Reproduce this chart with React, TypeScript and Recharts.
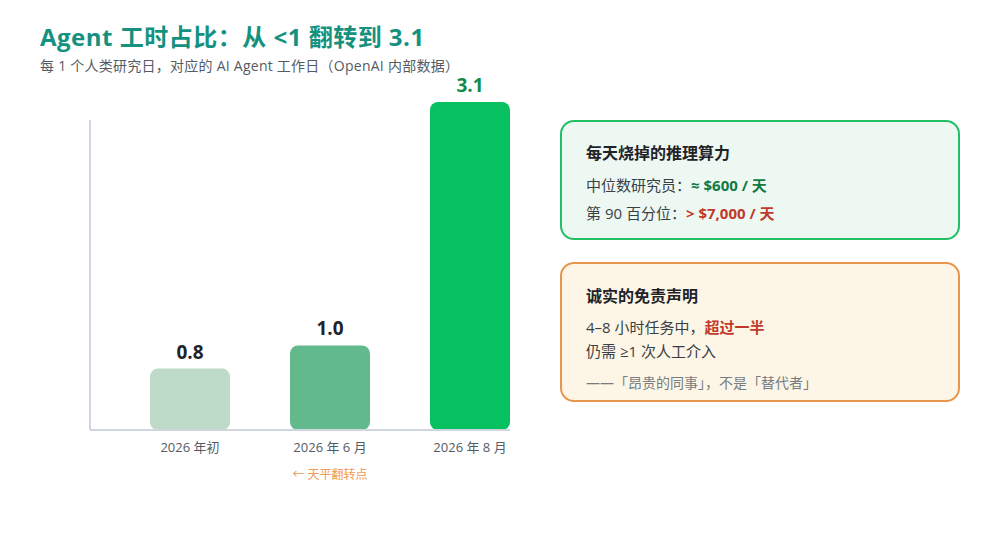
import React from "react";
import { BarChart, Bar, XAxis, YAxis, Cell, LabelList } from "recharts";

const categories = ["2026 年初", "2026 年 6 月", "2026 年 8 月"];
const ratios = [0.8, 1.0, 3.1];
const valueLabels = ["0.8", "1.0", "3.1"];
const tickNotes = ["", "← 天平翻转点", ""];
const barColors = ["#bddbc8", "#62b98c", "#07c160"];
const labelColors = ["#1f2328", "#1f2328", "#138a4a"];

const data = categories.map((c, i) => ({ name: c, value: ratios[i] }));

const FONT = "'Open Sans', 'Noto Sans CJK SC', sans-serif";

const Tick = (props: any) => {
  const { x, y, payload, index } = props;
  const note = tickNotes[index];
  return (
    <g>
      <text x={x} y={y} dy={14} textAnchor="middle" fill="#555b63" fontSize={13} fontFamily={FONT}>
        {payload.value}
      </text>
      {note ? (
        <text x={x} y={y} dy={41} textAnchor="middle" fill="#ee9a55" fontSize={12} fontFamily={FONT}>
          {note}
        </text>
      ) : null}
    </g>
  );
};

const TopLabel = (props: any) => {
  const { x, y, width, index } = props;
  return (
    <text x={x + width / 2} y={y - 10} textAnchor="middle" fill={labelColors[index]} fontSize={19} fontWeight={700} fontFamily={FONT}>
      {valueLabels[index]}
    </text>
  );
};

const lineStyle: React.CSSProperties = { fontSize: 15, color: "#3a3f45", margin: 0, lineHeight: "24px", whiteSpace: "nowrap" };
const titleStyle: React.CSSProperties = { fontSize: 16, fontWeight: 700, color: "#1f2328", lineHeight: "22px", margin: 0 };

export default function App() {
  return (
    <div style={{ position: "absolute", left: 0, top: 0, width: 1000, height: 560, background: "#fff", fontFamily: FONT, overflow: "hidden" }}>
      <div style={{ position: "absolute", left: 40, top: 20, fontSize: 24, fontWeight: 700, color: "#14917f", lineHeight: "34px", whiteSpace: "nowrap", letterSpacing: 0.5 }}>
        Agent 工时占比：从 &lt;1 翻转到 3.1
      </div>
      <div style={{ position: "absolute", left: 40, top: 57, fontSize: 14, color: "#555b63", lineHeight: "18px", whiteSpace: "nowrap", letterSpacing: 0.25 }}>
        每 1 个人类研究日，对应的 AI Agent 工作日（OpenAI 内部数据）
      </div>

      <div style={{ position: "absolute", left: 0, top: 0 }}>
        <BarChart width={560} height={500} data={data} margin={{ top: 102, right: 20, left: 60, bottom: 30 }}>
          <XAxis
            dataKey="name"
            padding={{ left: 30, right: 0 }}
            axisLine={{ stroke: "#cfd6e0", strokeWidth: 2, strokeDasharray: "420 1000" }}
            tickLine={false}
            tick={<Tick />}
            height={40}
            interval={0}
          />
          <YAxis
            type="number"
            domain={[0.27, 3.1]}
            width={30}
            tick={false}
            tickLine={false}
            axisLine={{ stroke: "#cfd6e0", strokeWidth: 2, strokeDasharray: "0 18 1000" }}
          />
          <Bar dataKey="value" barSize={80} radius={[8, 8, 8, 8]} isAnimationActive={false}>
            {data.map((d, i) => (
              <Cell key={d.name} fill={barColors[i]} />
            ))}
            <LabelList dataKey="value" content={<TopLabel />} />
          </Bar>
        </BarChart>
      </div>

      <div style={{ position: "absolute", left: 560, top: 120, width: 400, height: 120, boxSizing: "border-box", border: "2px solid #22c064", borderRadius: 14, background: "#eef8f2", padding: "20px 0 0 24px" }}>
        <div style={titleStyle}>每天烧掉的推理算力</div>
        <p style={{ ...lineStyle, marginTop: 9 }}>
          中位数研究员：<span style={{ color: "#137a42", fontWeight: 700 }}>≈ $600 / 天</span>
        </p>
        <p style={{ ...lineStyle, marginTop: 4 }}>
          第 90 百分位：<span style={{ color: "#c0392b", fontWeight: 700 }}>&gt; $7,000 / 天</span>
        </p>
      </div>

      <div style={{ position: "absolute", left: 560, top: 262, width: 400, height: 140, boxSizing: "border-box", border: "2px solid #e8964d", borderRadius: 14, background: "#fdf6e6", padding: "21px 0 0 24px" }}>
        <div style={titleStyle}>诚实的免责声明</div>
        <p style={{ ...lineStyle, marginTop: 8 }}>
          4–8 小时任务中，<span style={{ color: "#c0392b", fontWeight: 700 }}>超过一半</span>
        </p>
        <p style={lineStyle}>仍需 ≥1 次人工介入</p>
        <p style={{ ...lineStyle, fontSize: 14, color: "#777c82", marginTop: 8 }}>——「昂贵的同事」，不是「替代者」</p>
      </div>
    </div>
  );
}
